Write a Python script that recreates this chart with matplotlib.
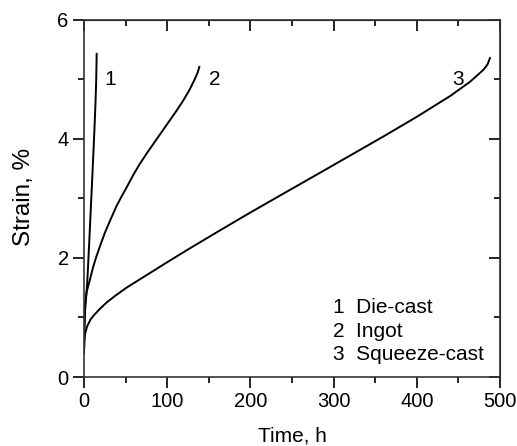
import matplotlib
matplotlib.use("Agg")
import matplotlib.pyplot as plt
from matplotlib.ticker import MultipleLocator

plt.rcParams['font.family'] = ['Liberation Sans', 'DejaVu Sans']

# Curve 1: Die-cast
die_t = [0, 0.3, 1.0, 2.0, 3.0, 4.0, 5.0, 6.4, 8.0, 9.5, 11.0, 12.5, 13.8, 14.7, 15.2]
die_s = [0.4, 0.75, 1.05, 1.25, 1.42, 1.62, 1.9, 2.3, 2.78, 3.22, 3.68, 4.15, 4.6, 5.0, 5.43]

# Curve 2: Ingot
ing_t = [0, 0.3, 1.2, 3, 7, 11, 15, 20, 25, 32, 39, 45, 51, 59, 67, 77, 87, 99, 111,
         119, 127, 133, 136.5, 138.6]
ing_s = [0.4, 0.75, 1.2, 1.42, 1.63, 1.85, 2.03, 2.23, 2.42, 2.65, 2.87, 3.03, 3.18,
         3.39, 3.58, 3.79, 3.99, 4.23, 4.47, 4.64, 4.83, 5.0, 5.11, 5.21]

# Curve 3: Squeeze-cast
sq_t = [0, 0.5, 1.5, 4, 8, 12, 18, 27, 38, 51, 75, 99, 127, 163, 199.5, 239.5, 279.7,
        319.7, 359.7, 399.8, 440, 464, 480, 485, 488]
sq_s = [0.45, 0.62, 0.74, 0.86, 0.97, 1.04, 1.13, 1.25, 1.37, 1.50, 1.71, 1.92, 2.16,
        2.46, 2.76, 3.08, 3.40, 3.72, 4.04, 4.37, 4.72, 4.96, 5.16, 5.25, 5.36]

curve_labels = ["1", "2", "3"]
label_pos_t = [32, 157, 450]
label_pos_s = [5.0, 5.0, 5.0]
legend_lines = ["1  Die-cast", "2  Ingot", "3  Squeeze-cast"]

fig = plt.figure(figsize=(5.17, 4.46), dpi=100)
ax = fig.add_axes([0.1625, 0.1547, 0.8045, 0.8006])

lw = 1.4
for t, s in [(die_t, die_s), (ing_t, ing_s), (sq_t, sq_s)]:
    ax.plot(t, s, color='black', lw=lw, solid_joinstyle='round')

ax.set_xlim(0, 500)
ax.set_ylim(0, 6)
ax.xaxis.set_major_locator(MultipleLocator(100))
ax.xaxis.set_minor_locator(MultipleLocator(50))
ax.yaxis.set_major_locator(MultipleLocator(2))
ax.yaxis.set_minor_locator(MultipleLocator(1))

ax.tick_params(which='major', direction='out', length=8, width=1.2, labelsize=14.5, pad=3)
ax.tick_params(which='minor', direction='out', length=4.5, width=1.2)
for sp in ax.spines.values():
    sp.set_linewidth(1.2)
    sp.set_color('#333333')

ax.set_xlabel("Time, h", fontsize=15, labelpad=11)
ax.set_ylabel("Strain, %", fontsize=17.5)
ax.yaxis.set_label_coords(-0.144, 0.504)
ax.yaxis.label.set_verticalalignment('center')

# top and right inward ticks
sx = ax.secondary_xaxis('top')
sx.xaxis.set_major_locator(MultipleLocator(100))
sx.xaxis.set_minor_locator(MultipleLocator(50))
sx.tick_params(which='major', direction='in', length=8, width=1.2, labeltop=False)
sx.tick_params(which='minor', direction='in', length=4.5, width=1.2)
sy = ax.secondary_yaxis('right')
sy.yaxis.set_major_locator(MultipleLocator(2))
sy.yaxis.set_minor_locator(MultipleLocator(1))
sy.tick_params(which='major', direction='in', length=8, width=1.2, labelright=False)
sy.tick_params(which='minor', direction='in', length=4.5, width=1.2)

for lab, x, y in zip(curve_labels, label_pos_t, label_pos_s):
    ax.text(x, y, lab, fontsize=15, ha='center', va='center')

for i, txt in enumerate(legend_lines):
    ax.text(299, 1.16 - i * 0.39, txt, fontsize=15, ha='left', va='center')

fig.savefig("out.png", dpi=100)
